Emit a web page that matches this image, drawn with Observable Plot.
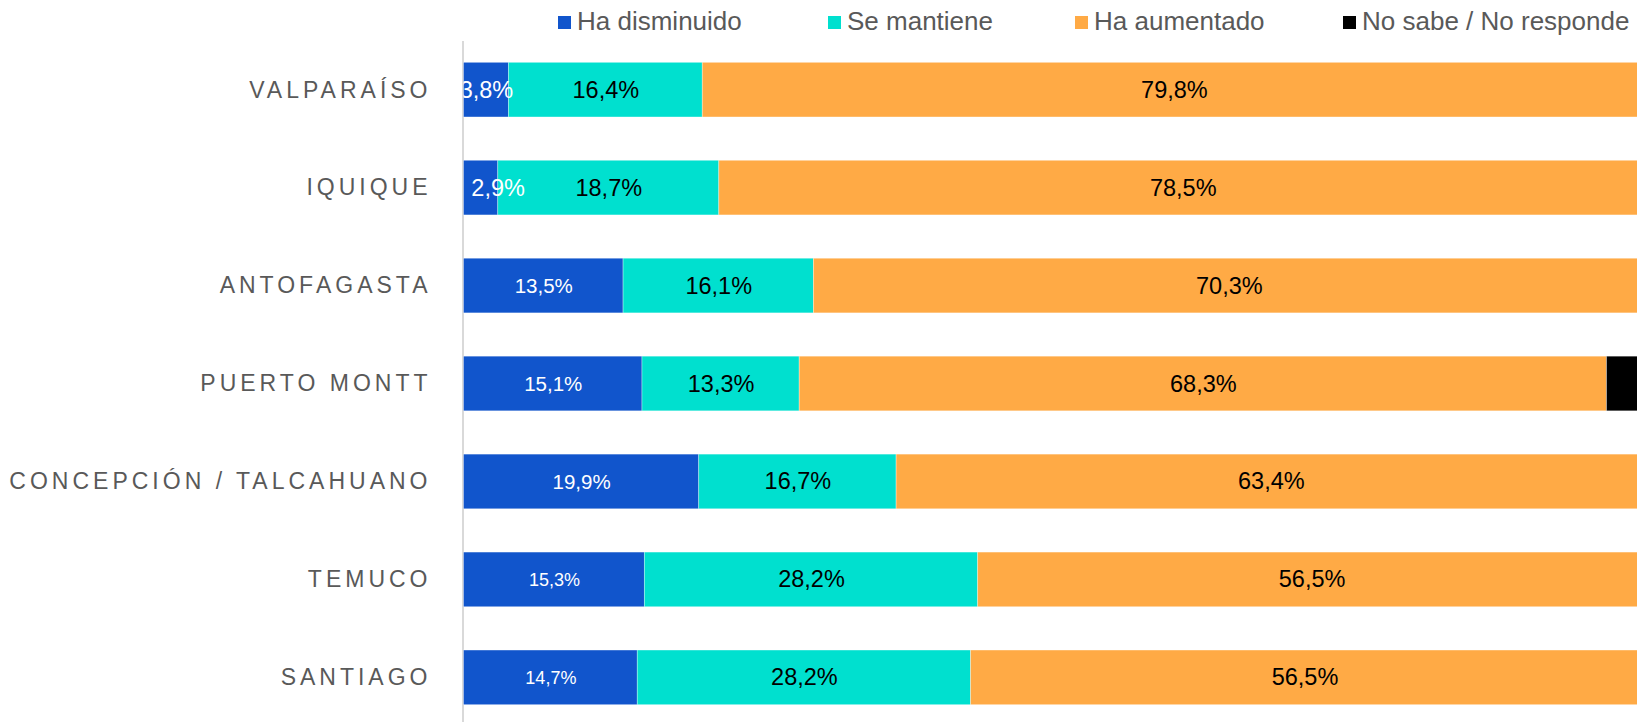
<!DOCTYPE html>
<html><head><meta charset="utf-8">
<script src="https://cdn.jsdelivr.net/npm/d3@7"></script>
<script src="https://cdn.jsdelivr.net/npm/@observablehq/plot@0.6"></script>
<style>
html,body{margin:0;padding:0;background:#fff;overflow:hidden;width:1637px;height:722px;}
body{font-family:"Liberation Sans", Arial, sans-serif;}
#legend{position:relative;height:41px;}
.li{position:absolute;top:1px;height:41px;display:flex;align-items:center;font-size:26px;color:#595959;white-space:nowrap;}
.sw{width:13px;height:13px;margin-right:6px;position:relative;top:1px;flex:none;}
svg{max-width:none !important;display:block;}
text[aria-label="city-label"]{letter-spacing:4px;}
</style></head><body>
<div id="legend"></div><div id="chart"></div>
<script>
// ---- data ----
const cities = ["VALPARAÍSO","IQUIQUE","ANTOFAGASTA","PUERTO MONTT","CONCEPCIÓN / TALCAHUANO","TEMUCO","SANTIAGO"];
const categories = ["Ha disminuido","Se mantiene","Ha aumentado","No sabe / No responde"];
const disminuido = [3.8, 2.9, 13.5, 15.1, 19.9, 15.3, 14.7];
const mantiene   = [16.4, 18.7, 16.1, 13.3, 16.7, 28.2, 28.2];
const aumentado  = [79.8, 78.5, 70.3, 68.3, 63.4, 56.5, 56.5];
const noSabe     = [0, 0, 0.1, 3.3, 0, 0, 0.6];

// ---- styles ----
const colors = ["#1155CC","#00E0CF","#FFAA45","#000000"];
const legendLeft = [558, 828, 1075, 1343];
const blueLabelSize = [23.5, 23.5, 20.5, 20.5, 20.5, 18, 18];

const series = [disminuido, mantiene, aumentado, noSabe];
const rows = [];
cities.forEach((c, i) => categories.forEach((k, j) => rows.push({city: c, cat: k, value: series[j][i], ci: i})));
const fmt = v => v.toFixed(1).replace(".", ",") + "%";

// legend
const lg = document.getElementById("legend");
categories.forEach((k, j) => {
  const it = document.createElement("div"); it.className = "li"; it.style.left = legendLeft[j] + "px";
  const sw = document.createElement("span"); sw.className = "sw"; sw.style.background = colors[j];
  const tx = document.createElement("span"); tx.textContent = k;
  it.appendChild(sw); it.appendChild(tx); lg.appendChild(it);
});

const blueRows = rows.filter(d => d.cat === categories[0]);
const font = "'Liberation Sans', Arial, sans-serif";

const chart = Plot.plot({
  width: 1646, height: 685,
  marginLeft: 463.5, marginRight: 0.5, marginTop: 0, marginBottom: 0,
  x: {domain: [0, 100], axis: null},
  y: {domain: cities, axis: null, paddingInner: 0.442, paddingOuter: 0.2176, round: false},
  color: {domain: categories, range: colors},
  style: {fontFamily: font, background: "white", overflow: "hidden"},
  marks: [
    Plot.ruleX([0], {dx: -1, stroke: "#d9d9d9", strokeWidth: 2}),
    Plot.barX(rows, Plot.stackX({x: "value", y: "city", fill: "cat", order: categories,
      stroke: "white", strokeWidth: 0.75, strokeOpacity: 0.45})),
    Plot.text(rows, Plot.stackX({x: "value", y: "city", z: "cat", order: categories,
      text: d => (d.cat === categories[1] || d.cat === categories[2]) ? fmt(d.value) : "",
      fill: "black", fontSize: 23.5, clip: true})),
    Plot.text(blueRows.filter(d => d.city !== "IQUIQUE"), {x: d => d.value / 2, y: "city", text: d => fmt(d.value),
      fill: "white", fontSize: d => blueLabelSize[d.ci], clip: true}),
    Plot.text(blueRows.filter(d => d.city === "IQUIQUE"), {x: d => d.value / 2, y: "city", text: d => fmt(d.value),
      fill: "white", fontSize: d => blueLabelSize[d.ci], dx: 17, clip: true}),
    Plot.text(cities, {y: d => d, frameAnchor: "left", dx: -32.5, textAnchor: "end", text: d => d,
      fill: "#595959", fontSize: 23, ariaLabel: () => "city-label"})
  ]
});
document.getElementById("chart").appendChild(chart);
</script>
</body></html>
